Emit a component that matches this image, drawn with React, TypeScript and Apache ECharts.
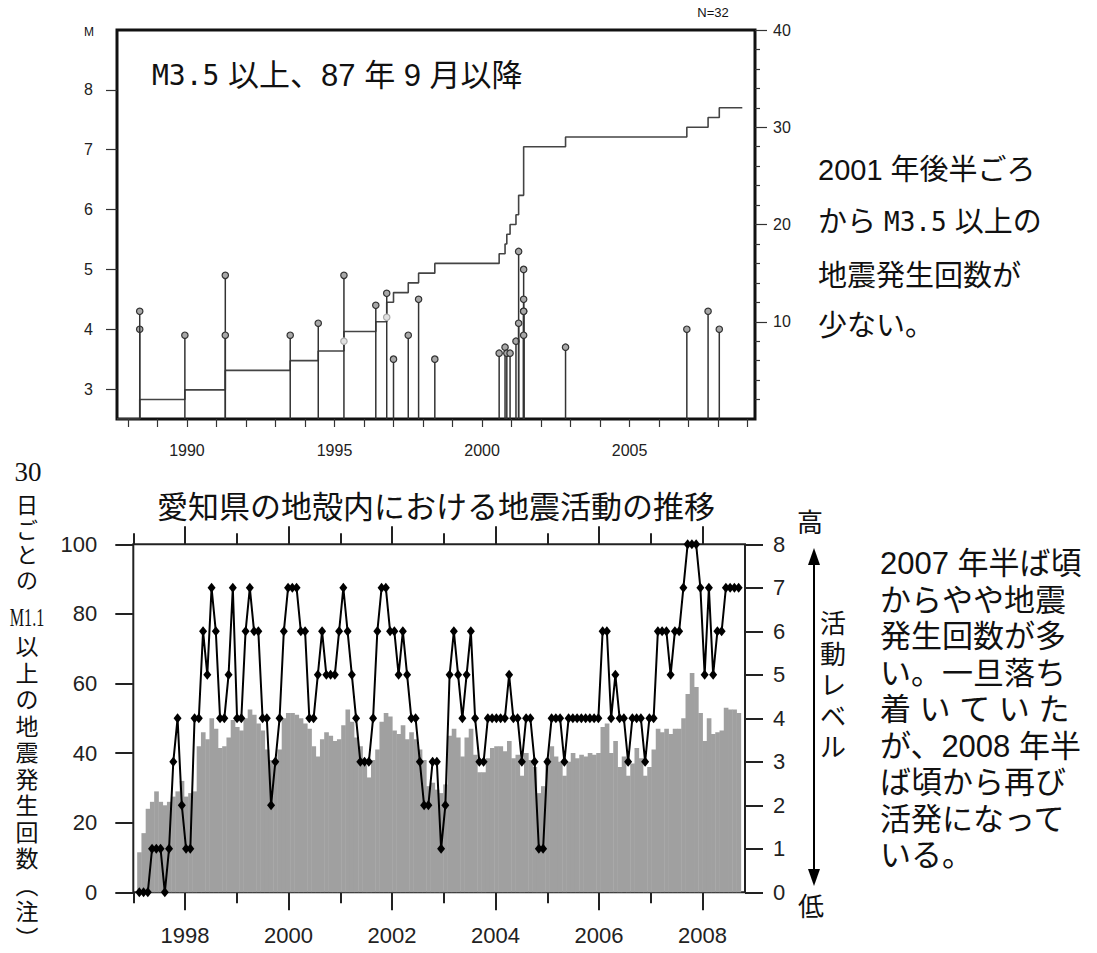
import { useEffect, useRef } from 'react'
import * as echarts from 'echarts'

// ---- 上段：M3.5 以上の地震（87 年 9 月以降） ----
const EVENT_TIMES = [
  1988.4, 1988.4, 1989.93, 1991.3, 1991.3, 1993.5, 1994.45, 1995.32, 1996.4, 1996.77,
  1997.0, 1997.5, 1997.85, 1998.4, 2000.58, 2000.78, 2000.84, 2000.95, 2001.15, 2001.24,
  2001.24, 2001.41, 2001.41, 2001.41, 2001.41, 2001.41, 2002.83, 2006.94, 2007.66, 2008.04,
]
const EVENT_MAGS = [
  4.0, 4.3, 3.9, 4.9, 3.9, 3.9, 4.1, 4.9, 4.4, 4.6,
  3.5, 3.9, 4.5, 3.5, 3.6, 3.7, 3.6, 3.6, 3.8, 5.3,
  4.1, 5.0, 4.5, 4.3, 4.3, 3.9, 3.7, 4.0, 4.3, 4.0,
]
// 薄く描かれている点
const FAINT_TIMES = [1995.32, 1996.77]
const FAINT_MAGS = [3.8, 4.2]

const TOP_X_MIN = 1987.63
const TOP_X_MAX = 2009.25
const STEP_END = 2008.82
const TOP_YEAR_LABELS = [1990, 1995, 2000, 2005]
const TOP_M_TICKS = [3, 4, 5, 6, 7, 8]
const TOP_N_TICKS = [10, 20, 30, 40]

// ---- 下段：30 日ごとの回数と活動レベル ----
const BIN_START = 1997.075
const BIN_DAYS = 30
const BAR_COUNTS = [
  11.5, 17, 24, 26, 29, 26, 25, 26, 27.5, 29,
  32, 27.5, 28.5, 29, 42, 46, 44, 50, 47, 41.5,
  42, 44.5, 49.5, 47.5, 46.5, 50, 52.5, 51, 48.5, 46.5,
  41, 38, 37, 41, 50, 51.5, 51.5, 51, 50, 48.5,
  47, 42, 39, 44, 46, 45, 43.5, 44, 48, 52.5,
  49, 44.5, 42, 36.5, 33, 38, 41, 49, 51.5, 50.5,
  46.5, 45.5, 48, 44, 46, 44, 41, 38, 30.5, 31.5,
  29.5, 28.5, 31, 45, 47, 44.5, 39, 44.5, 47, 39.5,
  34.5, 34.5, 38.5, 41.5, 42, 42, 40.5, 43.5, 38.5, 39.5,
  33.5, 40, 38, 36, 28.5, 30.5, 38.5, 42, 39, 37.5,
  33.5, 37.5, 40, 38.5, 39.5, 39, 40, 39.5, 40, 47.5,
  48.5, 40, 43.5, 36, 39, 33.5, 37, 41.5, 38.5, 33.5,
  36, 41, 47, 46, 47, 45.5, 47, 47, 50, 57,
  63, 59, 51.5, 43.5, 50, 45.5, 46, 46.5, 53, 52.5,
  52.5, 51.5,
]
const LEVELS = [
  0, 0, 0, 1, 1, 1, 0, 1, 3, 4,
  2, 1, 1, 4, 4, 6, 5, 7, 6, 4,
  4, 5, 7, 4, 4, 6, 7, 6, 6, 4,
  4, 2, 3, 4, 6, 7, 7, 7, 6, 6,
  4, 4, 5, 6, 5, 5, 5, 6, 7, 6,
  5, 4, 3, 3, 3, 4, 6, 7, 7, 6,
  6, 5, 6, 5, 4, 4, 3, 2, 2, 3,
  3, 1, 2, 5, 6, 5, 4, 5, 6, 4,
  3, 3, 4, 4, 4, 4, 4, 5, 4, 4,
  3, 4, 4, 3, 1, 1, 3, 4, 4, 4,
  3, 4, 4, 4, 4, 4, 4, 4, 4, 6,
  6, 4, 5, 4, 4, 3, 4, 4, 4, 3,
  4, 4, 6, 6, 6, 5, 6, 6, 7, 8,
  8, 8, 7, 5, 7, 5, 6, 6, 7, 7,
  7, 7,
]
const BOT_X_MIN = 1997
const BOT_X_MAX = 2008.82
const BOT_YEAR_LABELS = [1998, 2000, 2002, 2004, 2006, 2008]

const SANS = "'Liberation Sans', Arial, sans-serif"
// 数字は Arial 系、かなと漢字は Noto Sans CJK に落とす
const JP = "'Liberation Sans', 'Noto Sans CJK JP', sans-serif"
const SERIF = "'Liberation Serif', 'Times New Roman', serif"
const MONO = "'DejaVu Sans Mono', monospace"

const range = (a: number, b: number, step = 1) => {
  const r: number[] = []
  for (let v = a; v <= b; v += step) r.push(v)
  return r
}

const txt = (x: number, y: number, text: string, fontSize: number, extra: any = {}, el: any = {}) => ({
  type: 'text',
  x,
  y,
  silent: true,
  ...el,
  style: {
    text,
    fontSize,
    fontFamily: JP,
    fill: '#111',
    align: 'left',
    verticalAlign: 'middle',
    textAlign: 'left',
    textVerticalAlign: 'middle',
    ...extra,
  },
})

export default function App() {
  const chartRef = useRef<HTMLDivElement>(null)

  useEffect(() => {
    if (!chartRef.current) return
    const chart = echarts.init(chartRef.current, undefined, { renderer: 'svg' })

    const stemData = [
      ...EVENT_TIMES.map((t, i) => [t, EVENT_MAGS[i], 0]),
      ...FAINT_TIMES.map((t, i) => [t, FAINT_MAGS[i], 1]),
    ]
    const sortedTimes = stemData.map((d) => d[0]).sort((a, b) => a - b)
    const stepData: number[][] = [[TOP_X_MIN, 0]]
    sortedTimes.forEach((t, i) => stepData.push([t, i + 1]))
    stepData.push([STEP_END, sortedTimes.length])

    const binW = BIN_DAYS / 365.25
    const barData = BAR_COUNTS.map((c, i) => [BIN_START + i * binW, BIN_START + (i + 1) * binW, c])
    const levelData = LEVELS.map((v, i) => [BIN_START + (i + 0.5) * binW, v])

    const fmt = (v: number) => String(Math.round(v))
    const topTick = { color: '#333', width: 1.2 }
    const botTick = { color: '#222', width: 2 }
    const topLabel = { fontSize: 16, color: '#222', fontFamily: SANS, formatter: fmt }
    const botLabel = { fontSize: 22, color: '#222', fontFamily: SANS, formatter: fmt }

    const botX = (position: string, ticks: number[], length: number, labels: boolean) => ({
      type: 'value',
      gridIndex: 1,
      position,
      min: BOT_X_MIN,
      max: BOT_X_MAX,
      axisLine: { show: false },
      splitLine: { show: false },
      axisTick: { show: true, length, lineStyle: botTick, customValues: ticks },
      axisLabel: labels
        ? { ...botLabel, customValues: BOT_YEAR_LABELS, margin: 32 }
        : { show: false },
    })

    const option: any = {
      animation: false,
      backgroundColor: '#fff',
      grid: [
        { left: 117, top: 30, width: 638, height: 389, show: true, borderWidth: 3, borderColor: '#111' },
        { left: 133.3, top: 544.3, width: 611.7, height: 348, show: true, borderWidth: 2, borderColor: '#222' },
      ],
      xAxis: [
        {
          type: 'value',
          gridIndex: 0,
          position: 'bottom',
          min: TOP_X_MIN,
          max: TOP_X_MAX,
          axisLine: { show: false },
          splitLine: { show: false },
          axisTick: { show: true, length: 8, lineStyle: topTick, customValues: range(1988, 2009) },
          axisLabel: { ...topLabel, customValues: TOP_YEAR_LABELS, margin: 23 },
        },
        botX('bottom', range(1998, 2008, 2), 18, true),
        botX('bottom', range(1997, 2007, 2), 11, false),
        botX('top', range(1998, 2008, 2), 18, false),
        botX('top', range(1997, 2007, 2), 11, false),
      ],
      yAxis: [
        {
          type: 'value',
          gridIndex: 0,
          position: 'left',
          min: 2.5,
          max: 9,
          axisLine: { show: false },
          splitLine: { show: false },
          axisTick: { show: true, length: 11, lineStyle: topTick, customValues: TOP_M_TICKS },
          axisLabel: { ...topLabel, customValues: TOP_M_TICKS, margin: 24 },
        },
        {
          type: 'value',
          gridIndex: 0,
          position: 'right',
          min: 0,
          max: 40,
          axisLine: { show: false },
          splitLine: { show: false },
          axisTick: { show: true, length: 12, lineStyle: topTick, customValues: TOP_N_TICKS },
          axisLabel: { ...topLabel, customValues: TOP_N_TICKS, margin: 18 },
        },
        {
          type: 'value',
          gridIndex: 0,
          position: 'right',
          min: 0,
          max: 40,
          axisLine: { show: false },
          splitLine: { show: false },
          axisTick: {
            show: true,
            length: 5,
            lineStyle: topTick,
            customValues: range(2, 38, 2).filter((v) => v % 10 !== 0),
          },
          axisLabel: { show: false },
        },
        {
          type: 'value',
          gridIndex: 1,
          position: 'left',
          min: 0,
          max: 100,
          interval: 20,
          axisLine: { show: false },
          splitLine: { show: false },
          axisTick: { show: true, length: 18, lineStyle: botTick },
          axisLabel: { ...botLabel, margin: 36 },
        },
        {
          type: 'value',
          gridIndex: 1,
          position: 'right',
          min: 0,
          max: 8,
          interval: 1,
          axisLine: { show: false },
          splitLine: { show: false },
          axisTick: { show: true, length: 18, lineStyle: botTick },
          axisLabel: { ...botLabel, margin: 28 },
        },
      ],
      series: [
        {
          name: 'M',
          type: 'custom',
          xAxisIndex: 0,
          yAxisIndex: 0,
          silent: true,
          z: 4,
          data: stemData,
          encode: { x: 0, y: 1 },
          renderItem: (_params: any, api: any) => {
            const t = api.value(0)
            const m = api.value(1)
            const faint = api.value(2) === 1
            const top = api.coord([t, m])
            const base = api.coord([t, 2.5])
            const children: any[] = []
            if (!faint) {
              children.push({
                type: 'line',
                shape: { x1: top[0], y1: top[1], x2: base[0], y2: base[1] },
                style: { stroke: '#333', lineWidth: 1.5 },
              })
            }
            children.push({
              type: 'circle',
              shape: { cx: top[0], cy: top[1], r: 3.2 },
              style: {
                fill: faint ? '#e0e0e0' : '#a8a8a8',
                stroke: faint ? '#aaa' : '#333',
                lineWidth: 1.2,
              },
            })
            return { type: 'group', children }
          },
        },
        {
          name: '積算回数',
          type: 'line',
          xAxisIndex: 0,
          yAxisIndex: 1,
          step: 'end',
          showSymbol: false,
          silent: true,
          z: 3,
          data: stepData,
          lineStyle: { color: '#444', width: 1.6 },
        },
        {
          name: '30日ごとの回数',
          type: 'custom',
          xAxisIndex: 1,
          yAxisIndex: 3,
          silent: true,
          z: 2,
          data: barData,
          encode: { x: [0, 1], y: 2 },
          renderItem: (_params: any, api: any) => {
            const p0 = api.coord([api.value(0), api.value(2)])
            const p1 = api.coord([api.value(1), 0])
            return {
              type: 'rect',
              shape: { x: p0[0], y: p0[1], width: p1[0] - p0[0] + 0.4, height: p1[1] - p0[1] },
              style: { fill: '#a0a0a0' },
            }
          },
        },
        {
          name: '活動レベル',
          type: 'line',
          xAxisIndex: 1,
          yAxisIndex: 4,
          silent: true,
          z: 5,
          data: levelData,
          symbol: 'diamond',
          symbolSize: [8, 10],
          showSymbol: true,
          showAllSymbol: true,
          lineStyle: { color: '#000', width: 2 },
          itemStyle: { color: '#000' },
        },
      ],
      graphic: [
        txt(89, 32, 'M', 12, { fontFamily: SANS, align: 'center', textAlign: 'center' }),
        txt(713, 12, 'N=32', 13, { fontFamily: SANS, align: 'center', textAlign: 'center' }),
        txt(152, 75, '{m|M3.5} 以上、87 年 9 月以降', 31, {
          rich: { m: { fontFamily: MONO, fontSize: 28, fill: '#111' } },
        }),
        txt(818, 170, '2001 年後半ごろ', 29),
        txt(818, 222, 'から {m|M3.5} 以上の', 29, {
          rich: { m: { fontFamily: MONO, fontSize: 26, fill: '#111' } },
        }),
        txt(818, 276, '地震発生回数が', 29),
        txt(818, 326, '少ない。', 29),
        txt(436, 507, '愛知県の地殻内における地震活動の推移', 31, { align: 'center', textAlign: 'center' }),
        // 左の縦書き軸名
        txt(28, 472, '30', 27, { fontFamily: SERIF, align: 'center', textAlign: 'center' }),
        txt(27, 542.5, '日\nご\nと\nの', 22, { align: 'center', textAlign: 'center', lineHeight: 25 }),
        txt(27, 618, 'M1.1', 26, { fontFamily: SERIF, align: 'center', textAlign: 'center' }, { scaleX: 0.62 }),
        txt(27, 793, '以\n上\nの\n地\n震\n発\n生\n回\n数\n︵\n注\n︶', 23, {
          align: 'center',
          textAlign: 'center',
          lineHeight: 26.5,
        }),
        // 右の活動レベル矢印
        txt(810, 523, '高', 26, { align: 'center', textAlign: 'center' }),
        txt(811, 907, '低', 26, { align: 'center', textAlign: 'center' }),
        txt(833, 685.5, '活\n動\nレ\nベ\nル', 26, { align: 'center', textAlign: 'center', lineHeight: 31 }),
        {
          type: 'line',
          silent: true,
          shape: { x1: 814, y1: 562, x2: 814, y2: 872 },
          style: { stroke: '#000', lineWidth: 2 },
        },
        {
          type: 'polygon',
          silent: true,
          shape: { points: [[814, 548], [808, 565], [820, 565]] },
          style: { fill: '#000' },
        },
        {
          type: 'polygon',
          silent: true,
          shape: { points: [[814, 886], [808, 869], [820, 869]] },
          style: { fill: '#000' },
        },
        // 右下の説明文
        txt(880, 563, '2007 年半ば頃', 31),
        txt(880, 600, 'からやや地震', 31),
        txt(880, 636, '発生回数が多', 31),
        txt(880, 673, 'い。一旦落ち', 31),
        txt(880, 709, '着 い て い た', 31),
        txt(880, 746, 'が、2008 年半', 31),
        txt(880, 782, 'ば頃から再び', 31),
        txt(880, 819, '活発になって', 31),
        txt(880, 855, 'いる。', 31),
      ],
    }

    chart.setOption(option)
    return () => {
      chart.dispose()
    }
  }, [])

  return (
    <div
      ref={chartRef}
      style={{ position: 'absolute', left: 0, top: 0, width: '1097px', height: '953px', background: '#fff' }}
    />
  )
}
